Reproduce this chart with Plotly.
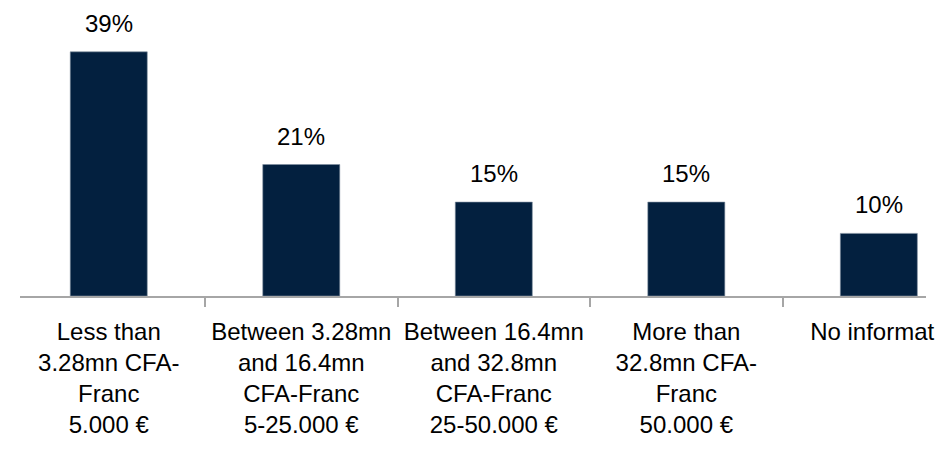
import plotly.graph_objects as go

categories = [
    "Less than<br>3.28mn CFA-<br>Franc<br>5.000 €",
    "Between 3.28mn<br>and 16.4mn<br>CFA-Franc<br>5-25.000 €",
    "Between 16.4mn<br>and 32.8mn<br>CFA-Franc<br>25-50.000 €",
    "More than<br>32.8mn CFA-<br>Franc<br>50.000 €",
    "No informat\u00a0\u00a0",
]
values = [39, 21, 15, 15, 10]
value_labels = ["39%", "21%", "15%", "15%", "10%"]

FONT = "Liberation Sans, Arial, sans-serif"
FS = 24
BAR = "#03203f"

fig = go.Figure()
fig.add_trace(go.Bar(
    x=categories, y=values, width=0.4,
    marker=dict(color=BAR, line=dict(color="#7f8fa0", width=0.6)),
    hoverinfo="skip",
))

for c, v, lab in zip(categories, values, value_labels):
    fig.add_annotation(x=c, y=v, text=lab, showarrow=False, yanchor="bottom",
                       yshift=13, font=dict(family=FONT, size=FS, color="#000000"))

# the page body adds an 8px offset; margins compensate for it
fig.update_layout(
    width=950, height=451,
    margin=dict(l=12, r=32, t=0, b=163, autoexpand=False),
    paper_bgcolor="white", plot_bgcolor="white",
    showlegend=False,
    font=dict(family=FONT, size=FS, color="#000000"),
)
fig.update_xaxes(
    type="category",
    range=[-0.461, 4.245],
    tickson="boundaries", ticks="outside", ticklen=9, tickwidth=1.5, tickcolor="#a6a6a6",
    showline=True, linecolor="#a6a6a6", linewidth=2,
    showgrid=False, zeroline=False,
    tickangle=0, automargin=False, ticklabelstandoff=13,
    tickfont=dict(family=FONT, size=FS, color="#000000"),
)
fig.update_yaxes(range=[0, 46.0], visible=False, showgrid=False, zeroline=False, automargin=False)

fig.write_html("out.html")
